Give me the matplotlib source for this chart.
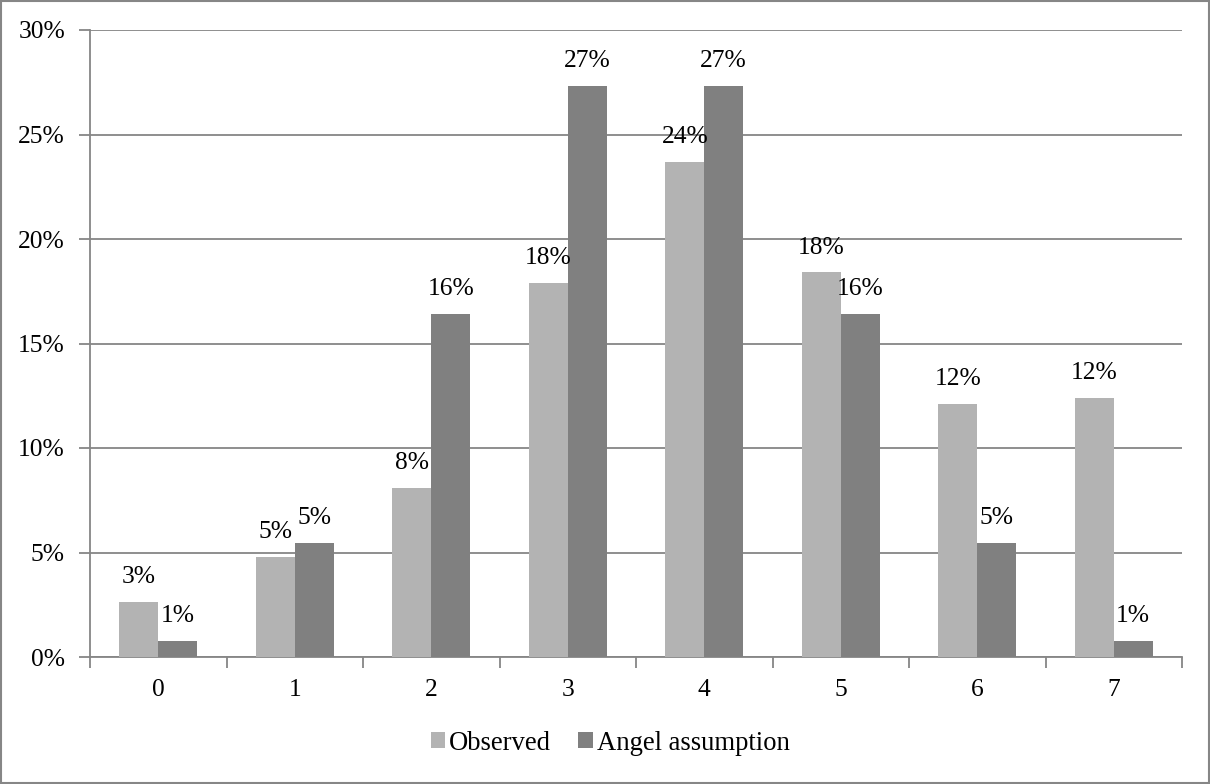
import matplotlib
matplotlib.use("Agg")
import matplotlib.pyplot as plt
from matplotlib.patches import Rectangle
import numpy as np

categories = ["0", "1", "2", "3", "4", "5", "6", "7"]
observed = [2.63, 4.80, 8.09, 17.9, 23.7, 18.4, 12.1, 12.4]
angel = [0.78, 5.47, 16.41, 27.34, 27.34, 16.41, 5.47, 0.78]
obs_labels = ["3%", "5%", "8%", "18%", "24%", "18%", "12%", "12%"]
ang_labels = ["1%", "5%", "16%", "27%", "27%", "16%", "5%", "1%"]
yticks = [0, 5, 10, 15, 20, 25, 30]

plt.rcParams['font.family'] = ['Liberation Serif', 'DejaVu Serif']
FS = 18.4
LFS = 19.2
axis_col = "#868686"
c_obs = "#b3b3b3"
c_ang = "#808080"

fig = plt.figure(figsize=(12.1, 7.84), dpi=100)
ax = fig.add_axes([90/1210, 1-657/784, (1182-90)/1210, (657-30)/784])

x = np.arange(len(categories))
w = 0.285
ax.bar(x - w/2, observed, w, color=c_obs, label="Observed", zorder=3)
ax.bar(x + w/2, angel, w, color=c_ang, label="Angel assumption", zorder=3)

for xi, v, t in zip(x, observed, obs_labels):
    ax.annotate(t, (xi - w/2, v), xytext=(0, 10), textcoords="offset points",
                ha="center", va="bottom", fontsize=FS, color="black")
for xi, v, t in zip(x, angel, ang_labels):
    ax.annotate(t, (xi + w/2, v), xytext=(0, 10), textcoords="offset points",
                ha="center", va="bottom", fontsize=FS, color="black")

ax.set_xlim(-0.5, len(categories) - 0.5)
ax.set_ylim(0, 30)
ax.set_yticks(yticks)
ax.set_yticklabels([f"{t}%" for t in yticks], fontsize=FS)
ax.yaxis.grid(True, color=axis_col, linewidth=1.3, zorder=0)
ax.set_axisbelow(True)

ax.set_xticks(x)
ax.set_xticklabels(categories, fontsize=FS)
ax.tick_params(axis="x", length=0, pad=16)
ax.set_xticks(np.arange(-0.5, len(categories)), minor=True)
ax.tick_params(axis="x", which="minor", length=8, color=axis_col, width=1.3)
ax.tick_params(axis="y", length=8, color=axis_col, width=1.3, pad=10)

for s in ["top", "right"]:
    ax.spines[s].set_visible(False)
for s in ["left", "bottom"]:
    ax.spines[s].set_color(axis_col)
    ax.spines[s].set_linewidth(1.3)

leg = fig.legend(loc="center", bbox_to_anchor=(610/1210, 1-743/784), ncol=2,
                 frameon=False, fontsize=LFS, handlelength=0.55, handleheight=0.55,
                 handletextpad=0.15, columnspacing=1.0)

fig.patches.append(Rectangle((0.001, 0.001), 0.998, 0.998, transform=fig.transFigure,
                             fill=False, edgecolor=axis_col, linewidth=1.5))

fig.savefig("out.png", dpi=100)
